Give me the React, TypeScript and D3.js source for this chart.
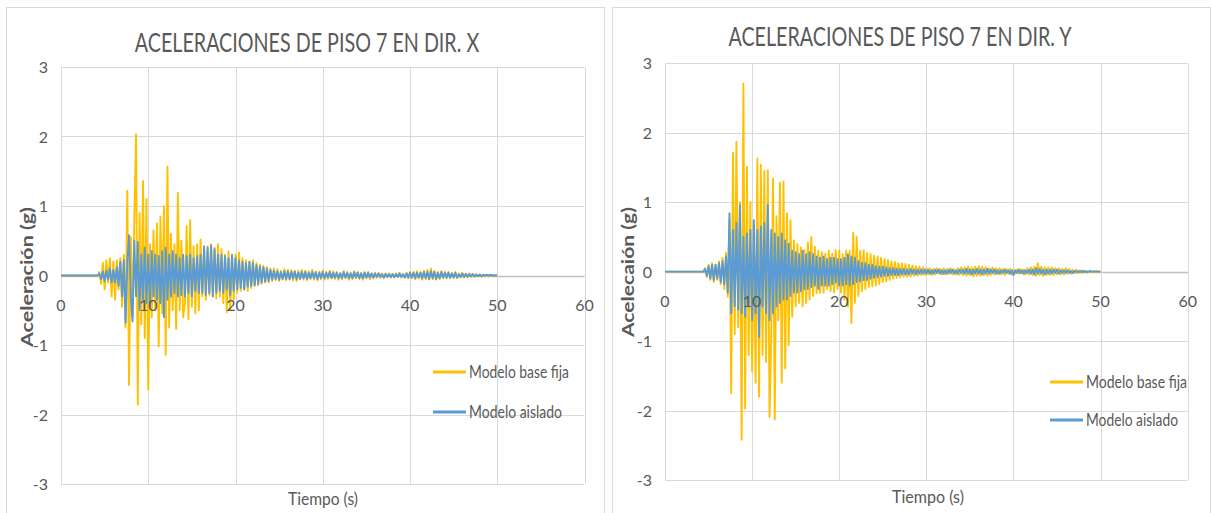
import React from "react";
import * as d3 from "d3";

// ---- Data ----
const X_TICKS = [0, 10, 20, 30, 40, 50, 60];
const Y_TICKS = [-3, -2, -1, 0, 1, 2, 3];
const SERIES_NAMES = ["Modelo base fija", "Modelo aislado"];
const TITLES = ["ACELERACIONES DE PISO 7 EN DIR. X", "ACELERACIONES DE PISO 7 EN DIR. Y"];
const Y_TITLES = ["Aceleración (g)", "Acelecaión (g)"];
const X_TITLE = "Tiempo (s)";

// sampled from t = 4.2 s to 50.0 s every 0.2 s (record is 0 before 4.2 s)
const T_START = 4.2;
const T_STEP = 0.2;

const X_BASE_FIJA = [
  0, 0.05, -0.12, 0.18, -0.2, 0.22, -0.1, 0.25, -0.3, 0.2,
  -0.35, 0.22, -0.2, 0.25, -0.45, 0.3, -0.75, 1.22, -1.58, 0.55,
  -0.6, 0.8, 2.03, -1.86, 0.9, -0.7, 1.36, -0.9, 1.1, -1.64,
  0.45, -0.6, 0.65, -0.5, 0.75, -1.02, 0.85, -0.55, 1.0, -1.14,
  1.57, -0.75, 0.6, -0.5, 0.45, -0.77, 1.19, -0.5, 0.5, -0.6,
  -0.4, 0.71, -0.63, 0.8, -0.45, 0.42, -0.54, 0.45, -0.5, 0.52,
  -0.3, 0.37, -0.35, 0.42, -0.28, 0.45, -0.3, 0.4, -0.33, 0.45,
  -0.3, 0.38, -0.4, 0.3, -0.53, 0.35, -0.5, 0.28, -0.35, 0.3,
  -0.25, 0.33, -0.22, 0.25, -0.2, 0.22, -0.22, 0.2, -0.18, 0.22,
  -0.15, 0.18, -0.14, 0.16, -0.12, 0.14, -0.1, 0.12, -0.1, 0.1,
  -0.08, 0.1, -0.07, 0.09, -0.08, 0.07, -0.06, 0.09, -0.07, 0.08,
  -0.06, 0.08, -0.07, 0.06, -0.08, 0.07, -0.05, 0.08, -0.06, 0.07,
  -0.07, 0.06, -0.05, 0.08, -0.06, 0.05, -0.07, 0.06, -0.05, 0.07,
  -0.06, 0.05, -0.05, 0.07, -0.04, 0.06, -0.05, 0.05, -0.06, 0.04,
  -0.05, 0.06, -0.04, 0.05, -0.06, 0.04, -0.05, 0.06, -0.04, 0.05,
  -0.05, 0.04, -0.06, 0.05, -0.04, 0.05, -0.05, 0.03, -0.04, 0.04,
  -0.03, 0.04, -0.03, 0.03, -0.04, 0.03, -0.02, 0.03, -0.03, 0.02,
  -0.03, 0.03, -0.02, 0.04, -0.03, 0.02, -0.03, 0.04, -0.04, 0.05,
  -0.04, 0.05, -0.05, 0.06, -0.04, 0.05, -0.06, 0.07, -0.05, 0.08,
  -0.06, 0.1, -0.05, 0.07, -0.06, 0.05, -0.05, 0.06, -0.04, 0.05,
  -0.04, 0.05, -0.04, 0.04, -0.03, 0.05, -0.04, 0.03, -0.03, 0.04,
  -0.03, 0.03, -0.02, 0.03, -0.02, 0.02, -0.02, 0.02, -0.01, 0.02,
  -0.01, 0.01, -0.01, 0.01, -0.01, 0.01, 0, 0.01, 0, 0,
];

const X_AISLADO = [
  0, 0.03, -0.05, 0.06, -0.08, 0.07, -0.06, 0.1, -0.1, 0.08,
  -0.1, 0.12, -0.15, 0.2, -0.3, 0.22, -0.68, 0.2, 0.58, -0.3,
  -0.66, 0.5, -0.3, 0.48, -0.5, 0.3, -0.35, 0.4, -0.4, 0.3,
  -0.45, 0.35, -0.3, 0.3, -0.35, 0.28, -0.4, 0.35, -0.6, 0.4,
  -0.35, 0.3, -0.3, 0.35, -0.25, 0.3, -0.3, 0.25, -0.28, 0.3,
  -0.3, 0.28, -0.25, 0.3, -0.3, 0.25, -0.22, 0.28, -0.25, 0.3,
  -0.25, 0.42, -0.28, 0.4, -0.25, 0.43, -0.3, 0.38, -0.25, 0.3,
  -0.22, 0.3, -0.25, 0.28, -0.2, 0.25, -0.28, 0.3, -0.22, 0.25,
  -0.2, 0.22, -0.18, 0.2, -0.2, 0.18, -0.16, 0.2, -0.15, 0.18,
  -0.14, 0.15, -0.12, 0.13, -0.1, 0.12, -0.09, 0.1, -0.08, 0.08,
  -0.06, 0.07, -0.05, 0.06, -0.06, 0.05, -0.05, 0.06, -0.05, 0.06,
  -0.05, 0.05, -0.04, 0.06, -0.05, 0.04, -0.05, 0.05, -0.04, 0.05,
  -0.05, 0.04, -0.04, 0.05, -0.04, 0.05, -0.05, 0.04, -0.04, 0.05,
  -0.04, 0.04, -0.03, 0.05, -0.04, 0.04, -0.03, 0.04, -0.04, 0.03,
  -0.04, 0.05, -0.03, 0.04, -0.04, 0.03, -0.04, 0.05, -0.03, 0.04,
  -0.04, 0.03, -0.04, 0.04, -0.03, 0.04, -0.03, 0.03, -0.03, 0.03,
  -0.02, 0.03, -0.02, 0.02, -0.03, 0.02, -0.02, 0.02, -0.02, 0.02,
  -0.02, 0.02, -0.02, 0.03, -0.02, 0.02, -0.03, 0.03, -0.03, 0.04,
  -0.03, 0.04, -0.04, 0.04, -0.03, 0.04, -0.04, 0.05, -0.04, 0.05,
  -0.05, 0.06, -0.04, 0.05, -0.05, 0.04, -0.04, 0.05, -0.03, 0.04,
  -0.03, 0.04, -0.03, 0.03, -0.03, 0.04, -0.03, 0.02, -0.02, 0.03,
  -0.02, 0.02, -0.02, 0.02, -0.01, 0.02, -0.01, 0.01, -0.01, 0.01,
  -0.01, 0.01, 0, 0.01, 0, 0.01, 0, 0, 0, 0,
];

const Y_BASE_FIJA = [
  0, 0, 0.05, -0.08, 0.1, -0.12, 0.12, -0.15, 0.1, -0.12,
  0.15, -0.18, 0.2, -0.25, 0.27, -0.36, 0.74, -1.75, 1.71, -0.9,
  1.87, -0.8, 1.0, -2.42, 2.71, -1.97, 1.51, -1.2, 1.0, -1.44,
  0.6, -1.6, 1.63, -1.8, 1.54, -1.2, 1.45, -1.3, 1.46, -2.09,
  -0.9, 1.34, -2.13, 0.8, -0.7, 1.28, -1.6, 1.3, -1.39, 0.84,
  -1.06, 0.74, -0.65, 0.45, -0.5, 0.4, -0.45, 0.35, -0.5, 0.31,
  -0.45, 0.42, -0.4, 0.5, -0.35, 0.36, -0.31, 0.3, -0.3, 0.28,
  -0.3, 0.26, -0.25, 0.3, -0.28, 0.26, -0.3, 0.31, -0.25, 0.3,
  -0.3, 0.25, -0.4, 0.3, -0.5, 0.3, -0.74, 0.56, -0.45, 0.5,
  -0.35, 0.3, -0.28, 0.31, -0.25, 0.27, -0.22, 0.25, -0.21, 0.23,
  -0.2, 0.22, -0.18, 0.2, -0.15, 0.18, -0.14, 0.17, -0.12, 0.15,
  -0.1, 0.14, -0.09, 0.12, -0.08, 0.12, -0.07, 0.11, -0.07, 0.1,
  -0.07, 0.09, -0.06, 0.08, -0.06, 0.07, -0.05, 0.06, -0.05, 0.05,
  -0.04, 0.05, -0.05, 0.04, -0.04, 0.05, -0.03, 0.04, -0.04, 0.05,
  -0.04, 0.04, -0.03, 0.05, -0.04, 0.03, -0.04, 0.05, -0.05, 0.06,
  -0.05, 0.06, -0.06, 0.07, -0.05, 0.06, -0.07, 0.07, -0.06, 0.08,
  -0.06, 0.07, -0.05, 0.06, -0.06, 0.05, -0.05, 0.06, -0.04, 0.05,
  -0.04, 0.05, -0.04, 0.04, -0.05, 0.04, -0.03, 0.04, -0.04, 0.03,
  -0.03, 0.03, -0.03, 0.04, -0.03, 0.03, -0.04, 0.05, -0.04, 0.06,
  -0.05, 0.07, -0.06, 0.12, -0.05, 0.07, -0.06, 0.06, -0.05, 0.06,
  -0.05, 0.06, -0.05, 0.05, -0.04, 0.05, -0.04, 0.04, -0.04, 0.05,
  -0.03, 0.04, -0.03, 0.03, -0.02, 0.03, -0.02, 0.02, -0.02, 0.02,
  -0.01, 0.01, -0.01, 0.01, -0.01, 0.01, 0, 0.01, 0, 0,
];

const Y_AISLADO = [
  0, 0, 0.04, -0.06, 0.08, -0.1, 0.1, -0.12, 0.1, -0.1,
  0.12, -0.15, 0.15, -0.18, 0.22, -0.3, 0.84, -0.6, 0.6, -0.5,
  0.7, -0.55, 0.96, -0.6, 0.5, -0.65, 0.55, -0.5, 0.6, -0.7,
  0.74, -0.6, 0.6, -0.94, 0.65, -0.5, 0.7, -0.6, 0.96, -0.7,
  0.6, -0.6, 0.55, -0.5, 0.5, -0.45, 0.55, -0.4, 0.45, -0.4,
  0.4, -0.35, 0.3, -0.3, 0.28, -0.3, 0.25, -0.28, 0.3, -0.25,
  0.25, -0.25, 0.28, -0.22, 0.25, -0.2, 0.22, -0.25, 0.2, -0.2,
  0.22, -0.2, 0.18, -0.2, 0.2, -0.18, 0.2, -0.16, 0.18, -0.2,
  0.18, -0.2, 0.2, -0.18, 0.25, -0.2, 0.22, -0.18, 0.2, -0.15,
  0.15, -0.14, 0.13, -0.12, 0.12, -0.12, 0.1, -0.1, 0.1, -0.09,
  0.08, -0.08, 0.07, -0.07, 0.07, -0.06, 0.06, -0.06, 0.05, -0.05,
  0.05, -0.05, 0.04, -0.05, 0.04, -0.04, 0.04, -0.04, 0.03, -0.04,
  0.04, -0.03, 0.03, -0.04, 0.03, -0.03, 0.03, -0.03, 0.03, -0.03,
  0.03, -0.03, 0.02, -0.03, 0.03, -0.02, 0.03, -0.03, 0.02, -0.03,
  0.02, -0.03, 0.03, -0.02, 0.03, -0.03, 0.02, -0.03, 0.03, -0.02,
  0.03, -0.03, 0.04, -0.03, 0.03, -0.04, 0.03, -0.03, 0.04, -0.03,
  0.03, -0.04, 0.03, -0.03, 0.04, -0.03, 0.03, -0.02, 0.03, -0.03,
  0.02, -0.03, 0.02, -0.02, 0.03, -0.02, 0.02, -0.03, 0.02, -0.05,
  0.02, -0.02, 0.03, -0.02, 0.02, -0.03, 0.02, -0.02, 0.03, -0.03,
  0.03, -0.04, 0.05, -0.03, 0.04, -0.03, 0.03, -0.04, 0.03, -0.03,
  0.03, -0.03, 0.03, -0.02, 0.03, -0.03, 0.02, -0.02, 0.02, -0.02,
  0.02, -0.02, 0.01, -0.02, 0.01, -0.01, 0.01, -0.01, 0.01, -0.01,
  0.01, -0.01, 0, 0.01, 0, 0, 0, 0, 0, 0,
];

// ---- Style ----
const COLOR_FIJA = "#FFC000";
const COLOR_AISLADO = "#5B9BD5";
const GRID = "#D9D9D9";
const TEXT = "#595959";
const FONT = "Lato, 'Open Sans', sans-serif";

type Pt = { t: number; v: number };
const toPoints = (vals: number[]): Pt[] => [
  { t: 0, v: 0 },
  ...vals.map((v, i) => ({ t: T_START + i * T_STEP, v })),
];

type PanelProps = {
  title: string;
  yTitle: string;
  fija: number[];
  aislado: number[];
  box: { x0: number; x1: number; y0: number; y1: number };
  frame: { x: number; w: number };
  titleBox: { cx: number; base: number };
  yTitleBox: { cx: number; cy: number; len: number };
  xTitleBox: { cx: number; base: number; w: number };
  legend: { x0: number; x1: number; y0: number; y1: number; w0: number; w1: number };
};

function Panel(p: PanelProps) {
  const x = d3.scaleLinear().domain([0, 60]).range([p.box.x0, p.box.x1]);
  const y = d3.scaleLinear().domain([-3, 3]).range([p.box.y1, p.box.y0]);
  const line = d3
    .line<Pt>()
    .x((d) => x(d.t))
    .y((d) => y(d.v));
  const fPts = toPoints(p.fija);
  const aPts = toPoints(p.aislado);
  return (
    <g>
      <rect x={p.frame.x + 0.5} y={7.5} width={p.frame.w} height={520} fill="#fff" stroke={GRID} strokeWidth={1} />
      {/* title: the reference glyphs are tall and narrow, so the text is squeezed horizontally */}
      <text
        transform={`translate(${p.titleBox.cx},${p.titleBox.base}) scale(0.73,1)`}
        textAnchor="middle"
        fontFamily={FONT}
        fontSize={27}
        fontWeight={400}
        fill={TEXT}
      >
        {p.title}
      </text>
      {/* gridlines */}
      {Y_TICKS.map((t) => (
        <line key={"h" + t} x1={p.box.x0} x2={p.box.x1} y1={Math.round(y(t)) + 0.5} y2={Math.round(y(t)) + 0.5} stroke={t === 0 ? "#BFBFBF" : GRID} strokeWidth={t === 0 ? 1.5 : 1} />
      ))}
      {X_TICKS.map((t) => (
        <line key={"v" + t} x1={Math.round(x(t)) + 0.5} x2={Math.round(x(t)) + 0.5} y1={p.box.y0} y2={p.box.y1} stroke={GRID} strokeWidth={1} />
      ))}
      {/* y tick labels */}
      {Y_TICKS.map((t) => (
        <text key={"yl" + t} x={p.box.x0 - 13} y={y(t) + 6} textAnchor="end" fontFamily={FONT} fontSize={16} fill={TEXT}>
          {String(t)}
        </text>
      ))}
      {/* series */}
      <path d={line(fPts) || ""} fill="none" stroke={COLOR_FIJA} strokeWidth={1.9} strokeLinejoin="round" />
      <path d={line(aPts) || ""} fill="none" stroke={COLOR_AISLADO} strokeWidth={1.9} strokeLinejoin="round" />
      {/* x tick labels */}
      {X_TICKS.map((t) => (
        <text key={"xl" + t} x={x(t)} y={y(0) + 35} textAnchor="middle" fontFamily={FONT} fontSize={16} fill={TEXT}>
          {String(t)}
        </text>
      ))}
      {/* axis titles */}
      <text
        transform={`translate(${p.yTitleBox.cx},${p.yTitleBox.cy}) rotate(-90)`}
        textAnchor="middle"
        dominantBaseline="central"
        fontFamily={FONT}
        fontSize={17}
        fontWeight={700}
        fill={TEXT}
        textLength={p.yTitleBox.len}
        lengthAdjust="spacingAndGlyphs"
      >
        {p.yTitle}
      </text>
      <text
        x={p.xTitleBox.cx}
        y={p.xTitleBox.base}
        textAnchor="middle"
        fontFamily={FONT}
        fontSize={18}
        fill={TEXT}
        textLength={p.xTitleBox.w}
        lengthAdjust="spacingAndGlyphs"
      >
        {X_TITLE}
      </text>
      {/* legend */}
      <line x1={p.legend.x0} x2={p.legend.x1} y1={p.legend.y0} y2={p.legend.y0} stroke={COLOR_FIJA} strokeWidth={3} />
      <text x={p.legend.x1 + 3} y={p.legend.y0 + 6} fontFamily={FONT} fontSize={17} fill={TEXT} textLength={p.legend.w0} lengthAdjust="spacingAndGlyphs">
        {SERIES_NAMES[0]}
      </text>
      <line x1={p.legend.x0} x2={p.legend.x1} y1={p.legend.y1} y2={p.legend.y1} stroke={COLOR_AISLADO} strokeWidth={3} />
      <text x={p.legend.x1 + 3} y={p.legend.y1 + 6} fontFamily={FONT} fontSize={17} fill={TEXT} textLength={p.legend.w1} lengthAdjust="spacingAndGlyphs">
        {SERIES_NAMES[1]}
      </text>
    </g>
  );
}

export default function App() {
  return (
    <svg width={1212} height={513} style={{ position: "absolute", left: 0, top: 0, background: "#fff" }}>
      <Panel
        title={TITLES[0]}
        yTitle={Y_TITLES[0]}
        fija={X_BASE_FIJA}
        aislado={X_AISLADO}
        box={{ x0: 61, x1: 584.5, y0: 67, y1: 484 }}
        frame={{ x: 6, w: 598 }}
        titleBox={{ cx: 307, base: 52 }}
        yTitleBox={{ cx: 26, cy: 277, len: 140 }}
        xTitleBox={{ cx: 323, base: 505, w: 70 }}
        legend={{ x0: 433, x1: 466, y0: 372, y1: 412, w0: 100, w1: 93 }}
      />
      <Panel
        title={TITLES[1]}
        yTitle={Y_TITLES[1]}
        fija={Y_BASE_FIJA}
        aislado={Y_AISLADO}
        box={{ x0: 665, x1: 1187.7, y0: 63.3, y1: 480 }}
        frame={{ x: 612, w: 598 }}
        titleBox={{ cx: 900, base: 46 }}
        yTitleBox={{ cx: 627, cy: 272, len: 130 }}
        xTitleBox={{ cx: 928, base: 503, w: 72 }}
        legend={{ x0: 1050, x1: 1083, y0: 382, y1: 420, w0: 101, w1: 92 }}
      />
    </svg>
  );
}
